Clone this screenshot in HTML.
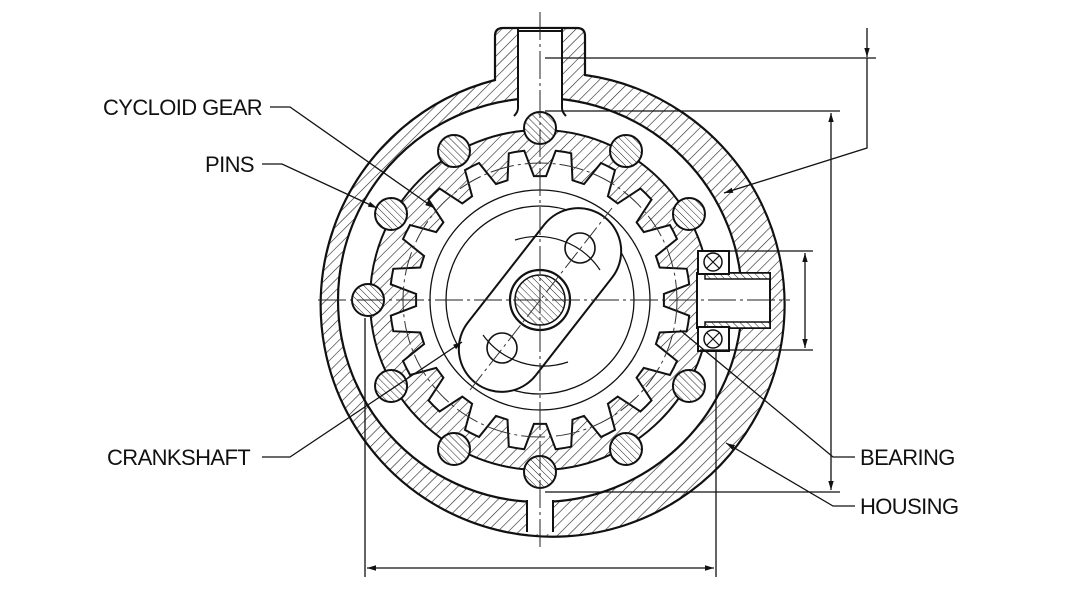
<!DOCTYPE html>
<html><head><meta charset="utf-8"><style>
html,body{margin:0;padding:0;background:#fff}
svg{display:block}
text{font-family:"Liberation Sans",Arial,sans-serif;font-size:22px;fill:#111;letter-spacing:-0.6px}
</style></head><body>
<svg id="s" width="1080" height="603" viewBox="0 0 1080 603" xmlns="http://www.w3.org/2000/svg">
<defs>
<pattern id="h" width="7.5" height="7.5" patternUnits="userSpaceOnUse" patternTransform="rotate(45)">
<rect width="7.5" height="7.5" fill="#fff"/><line x1="0" y1="0" x2="0" y2="7.5" stroke="#222" stroke-width="1.2"/></pattern>
<pattern id="hp" width="5" height="5" patternUnits="userSpaceOnUse" patternTransform="rotate(-45)">
<rect width="5" height="5" fill="#fff"/><line x1="0" y1="0" x2="0" y2="5" stroke="#222" stroke-width="1"/></pattern>
<marker id="a" viewBox="0 0 10 10" refX="10" refY="5" markerWidth="9" markerHeight="9" orient="auto-start-reverse" markerUnits="userSpaceOnUse"><path d="M0,2 L10,5 L0,8z" fill="#111"/></marker>
</defs>
<rect width="1080" height="603" fill="#fff"/>
<path fill="url(#h)" stroke="#111" stroke-width="2.2" fill-rule="evenodd"
d="M495,80 L495,36 Q495,28 503,28 L577,28 Q585,28 585,36 L585,75 A232,232 0 1 1 495,80 Z
M742,300 A202,202 0 1 0 338,300 A202,202 0 1 0 742,300 Z"/>
<rect x="518" y="29" width="44" height="80" fill="#fff"/>
<path d="M518,29 L518,108 Q518,112 514,116 M562,29 L562,108 Q562,112 566,116" fill="none" stroke="#111" stroke-width="2"/>
<line x1="518" y1="31" x2="562" y2="31" stroke="#111" stroke-width="2"/>
<rect x="527" y="500" width="26" height="34" fill="#fff"/>
<path d="M527,500 V532 M553,500 V532" stroke="#111" stroke-width="2"/>
<g id="dyn"></g>
<rect x="697" y="273" width="73" height="55" fill="#fff" stroke="#111" stroke-width="2"/>
<rect x="705" y="273" width="65" height="6" fill="url(#hp)" stroke="#111" stroke-width="1.5"/>
<rect x="705" y="322" width="65" height="6" fill="url(#hp)" stroke="#111" stroke-width="1.5"/>
<rect x="698" y="251" width="31" height="23" fill="#fff" stroke="#111" stroke-width="2"/>
<rect x="698" y="327" width="31" height="24" fill="#fff" stroke="#111" stroke-width="2"/>
<circle cx="713" cy="262" r="9" fill="none" stroke="#111" stroke-width="1.5"/>
<circle cx="713" cy="339" r="9" fill="none" stroke="#111" stroke-width="1.5"/>
<path d="M707,256 L719,268 M719,256 L707,268 M707,333 L719,345 M719,333 L707,345" stroke="#111" stroke-width="1.2"/>
<line x1="318" y1="300" x2="790" y2="300" stroke="#222" stroke-width="1" stroke-dasharray="28,4,3,4"/>
<line x1="540" y1="12" x2="540" y2="548" stroke="#222" stroke-width="1" stroke-dasharray="28,4,3,4"/>
<g stroke="#111" stroke-width="1.3" fill="none">
<line x1="365" y1="318" x2="365" y2="577"/>
<line x1="716" y1="352" x2="716" y2="577"/>
<line x1="367" y1="568" x2="714" y2="568" marker-start="url(#a)" marker-end="url(#a)"/>
<line x1="545" y1="58" x2="876" y2="58"/>
<line x1="867" y1="28" x2="867" y2="57" marker-end="url(#a)"/>
<polyline points="867,58 867,148 724,193" marker-end="url(#a)"/>
<line x1="545" y1="111" x2="840" y2="111"/>
<line x1="545" y1="492" x2="840" y2="492"/>
<line x1="831" y1="113" x2="831" y2="490" marker-start="url(#a)" marker-end="url(#a)"/>
<line x1="700" y1="251" x2="813" y2="251"/>
<line x1="700" y1="350" x2="813" y2="350"/>
<line x1="805" y1="253" x2="805" y2="348" marker-start="url(#a)" marker-end="url(#a)"/>
<polyline points="270,107 290,107 434,208" marker-end="url(#a)"/>
<polyline points="262,164 282,164 377,208" marker-end="url(#a)"/>
<polyline points="262,457 290,457 462,342" marker-end="url(#a)"/>
<polyline points="855,457 833,457 680,330" />
<polyline points="855,506 833,506 726,443" marker-end="url(#a)"/>
</g>
<text x="103" y="115">CYCLOID GEAR</text>
<text x="205" y="172">PINS</text>
<text x="107" y="465">CRANKSHAFT</text>
<text x="860" y="465">BEARING</text>
<text x="860" y="514">HOUSING</text>
<script>
(function(){
var cx=540,cy=300,g=document.getElementById('dyn'),NS='http://www.w3.org/2000/svg';
function P(r,a){a=a*Math.PI/180;return (cx+r*Math.cos(a)).toFixed(1)+','+(cy+r*Math.sin(a)).toFixed(1);}
var d='M'+P(170,0)+' A170,170 0 1 1 '+P(170,180)+' A170,170 0 1 1 '+P(170,0)+' Z ';
for(var k=0;k<20;k++){var a=90+18*k;
 d+=(k==0?'M':'L')+P(150,a-6)+' L'+P(124,a-2.8)+' L'+P(124,a+2.8)+' L'+P(150,a+6)+' A150,150 0 0 1 '+P(150,a+12)+' ';}
d+='Z';
function el(n,at){var e=document.createElementNS(NS,n);for(var i in at)e.setAttribute(i,at[i]);g.appendChild(e);return e;}
el('path',{d:d,fill:'url(#h)',stroke:'#111','stroke-width':'2','fill-rule':'evenodd'});
el('circle',{cx:cx,cy:cy,r:137,fill:'none',stroke:'#333','stroke-width':'1','stroke-dasharray':'24,4,3,4'});
el('circle',{cx:cx,cy:cy,r:110,fill:'none',stroke:'#111','stroke-width':'1.3'});
el('circle',{cx:cx,cy:cy,r:94,fill:'none',stroke:'#111','stroke-width':'1.3'});
for(var i=1;i<12;i++){var an=i*30*Math.PI/180;
 el('circle',{cx:cx+172*Math.cos(an),cy:cy+172*Math.sin(an),r:16,fill:'url(#hp)',stroke:'#111','stroke-width':'2'});}
el('rect',{x:cx-105,y:cy-43,width:210,height:86,rx:43,fill:'#fff',stroke:'#111','stroke-width':'2',transform:'rotate(-52 540 300)'});
el('circle',{cx:cx,cy:cy,r:30,fill:'#fff',stroke:'#111','stroke-width':'2.2'});
el('circle',{cx:cx,cy:cy,r:25,fill:'url(#hp)',stroke:'#111','stroke-width':'1.5'});
el('circle',{cx:580,cy:248,r:15,fill:'#fff',stroke:'#111','stroke-width':'1.6'});
el('circle',{cx:502,cy:348,r:15,fill:'#fff',stroke:'#111','stroke-width':'1.6'});
el('line',{x1:470,y1:390,x2:612,y2:208,stroke:'#333','stroke-width':'1','stroke-dasharray':'20,4,3,4'});
el('path',{d:'M515,240 A75,75 0 0 1 600,270',fill:'none',stroke:'#111','stroke-width':'1.2'});
el('path',{d:'M483,335 A75,75 0 0 0 568,362',fill:'none',stroke:'#111','stroke-width':'1.2'});
})();
</script>
</svg>
</body></html>
